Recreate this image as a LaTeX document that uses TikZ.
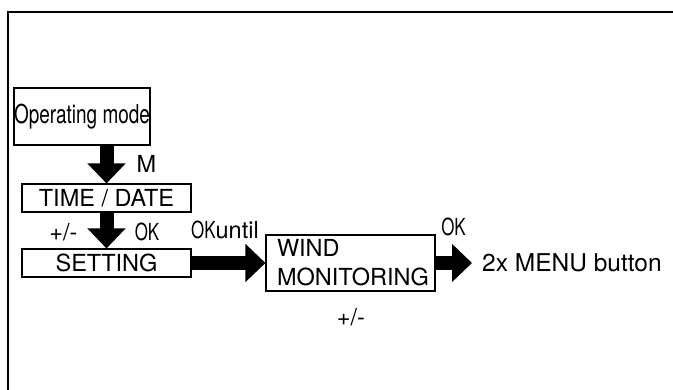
\documentclass[tikz,border=0pt]{standalone}
\usepackage{fontspec}
\setmainfont{TeX Gyre Heros}
\usepackage{graphicx}
\usetikzlibrary{arrows.meta}

\newcommand\narrowok{\scalebox{0.72}[1]{OK}}

\begin{document}
\begin{tikzpicture}[x=1pt,y=-1pt,
  box/.style={draw, line width=1.1pt, inner sep=0pt},
  blockarrow/.style={line width=14pt, -{Triangle[width=37pt,length=20pt]}},
  lbl/.style={inner sep=0pt, font=\fontsize{23.5}{28}\selectfont}]
\useasboundingbox (0,0) rectangle (673,390);
\fontsize{23.5}{29}\selectfont

% frame
\draw[line width=2pt] (673,12) -- (8,12) -- (8,390);

% boxes
\node[box, minimum width=132pt, minimum height=57pt] (opmode) at (82,116.5)
    {\fontsize{26}{30}\selectfont\scalebox{0.73}[1]{Operating mode}};
\node[box, minimum width=169pt, minimum height=28pt] (timedate) at (106.5,198)
    {TIME / DATE};
\node[box, minimum width=169pt, minimum height=28pt] (setting) at (106.5,263)
    {SETTING};
\node[box, minimum width=169pt, minimum height=56pt, text width=147pt,
      inner xsep=11pt, align=left] (wind) at (350.5,263)
    {WIND\\MONITORING};
\node[lbl, anchor=west, font=\fontsize{24.5}{28}\selectfont] (menu) at (482,263)
    {2x MENU button};

% arrows
\draw[blockarrow] (timedate.north |- opmode.south) -- (timedate.north);
\draw[blockarrow] (timedate.south) -- (setting.north);
\draw[blockarrow] (setting.east) -- (wind.west);
\draw[blockarrow, shorten >=10pt] (wind.east) -- (menu.west);

% labels
\node[lbl] (lblm) at (146.5,163.5) {M};
\node[lbl] (lblpm) at (63.5,232) {+/-};
\node[lbl] (lblok) at (147,232) {\narrowok};
\node[lbl] (lbluntil) at (225,230) {\narrowok until};
\node[lbl] (lblokr) at (453.5,227) {\narrowok};
\node[lbl] (lblpmw) at (351,317) {+/-};
\end{tikzpicture}
\end{document}
